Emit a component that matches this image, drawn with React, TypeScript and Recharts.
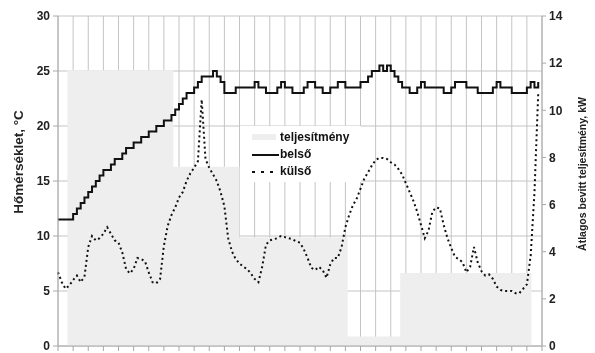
import {
  ComposedChart,
  Area,
  Line,
  XAxis,
  YAxis,
  CartesianGrid,
  Legend
} from "recharts";

// belső hőmérséklet, °C (one reading per sample)
const insideTemp = [
  11.5, 11.5, 11.5, 11.5, 12, 12.5, 13, 13.5, 14, 14.5,
  15, 15.5, 16, 16, 16.5, 17, 17, 17.5, 18, 18,
  18.5, 18.5, 19, 19, 19.5, 19.5, 20, 20, 20.5, 20.5,
  21, 21.5, 22, 22.5, 23, 23, 23.5, 24, 24.5, 24.5,
  24.5, 25, 24.5, 24, 23, 23, 23, 23.5, 23.5, 23.5,
  23.5, 23.5, 24, 23.5, 23.5, 23, 23, 23, 23.5, 24,
  23.5, 23.5, 23, 23, 23, 23.5, 24, 24, 23.5, 23.5,
  23, 23, 23.5, 23.5, 24, 24, 23.5, 23.5, 23.5, 23.5,
  24, 24, 24.5, 25, 25, 25.5, 25, 25.5, 25, 24.5,
  24, 23.5, 23.5, 23, 23, 23.5, 24, 23.5, 23.5, 23.5,
  23.5, 23.5, 23, 23, 23.5, 24, 24, 24, 23.5, 23.5,
  23.5, 23, 23, 23, 23, 23.5, 24, 23.5, 23.5, 23.5,
  23, 23, 23, 23, 23.5, 24, 23.5, 24
];

// külső hőmérséklet, °C
const outsideTemp = [
  6.7, 5.8, 5.2, 5.5, 6.0, 6.4, 5.8, 6.3, 9.0, 10.0,
  9.6, 9.8, 10.2, 10.8, 10.2, 9.6, 9.4, 8.5, 7.0, 6.6,
  7.0, 8.0, 7.9, 7.7, 6.7, 5.8, 5.7, 6.1, 9.1, 10.9,
  11.9, 12.6, 13.5, 14.0, 15.0, 15.7, 16.2, 16.8, 22.4, 17.0,
  16.2, 15.6, 15.0, 14.0, 12.7, 9.8, 8.6, 7.9, 7.5, 7.2,
  7.0, 6.6, 6.1, 5.8, 7.2, 9.2, 9.6, 9.7, 9.8, 10.0,
  9.9, 9.8, 9.7, 9.5, 9.4, 8.8, 8.0, 7.1, 6.9, 7.2,
  6.9, 6.2, 7.4, 8.0, 8.0, 9.0, 10.8, 11.9, 12.8, 13.4,
  14.3, 15.2, 15.8, 16.4, 16.9, 17.1, 17.1, 17.0, 16.7, 16.5,
  16.1, 15.6, 14.8, 14.0, 13.2, 12.2, 11.0, 9.8, 10.5, 12.2,
  12.6, 12.5, 11.0, 9.8, 8.9, 8.1, 7.9, 7.6, 6.7, 7.2,
  9.0, 7.6, 6.8, 6.4, 6.5, 6.1, 5.4, 5.1, 5.0, 5.0,
  5.0, 4.8, 4.8, 5.2, 5.6, 8.2, 13.9, 23.0
];

// átlagos bevitt teljesítmény, kW: block start (sample index) and value
const powerStart = [0, 2.5, 30.5, 48, 76.6, 90.5, 125.2, 128];
const powerKw = [0, 11.7, 7.6, 4.6, 0.4, 3.1, 0, 0];

const tempTicks = [0, 5, 10, 15, 20, 25, 30];
const powerTicks = [0, 2, 4, 6, 8, 10, 12, 14];
const xTicks = Array.from({ length: 33 }, (_, i) => i * 4);

const tempData = insideTemp.map((v, i) => ({
  t: i,
  belso: v,
  kulso: outsideTemp[i]
}));

const powerData = powerStart.map((t, i) => ({ t, teljesitmeny: powerKw[i] }));

const FONT = '"Liberation Sans", Arial, sans-serif';
const tickStyle = { fontSize: 12, fontWeight: "bold", fill: "#222", fontFamily: FONT };

const renderLegend = () => (
  <div
    style={{
      fontFamily: FONT,
      fontWeight: "bold",
      fontSize: 12,
      color: "#111",
      background: "#fff",
      padding: "3px 0 0 12px",
      height: 56,
      boxSizing: "border-box",
      lineHeight: "17px"
    }}
  >
    <div style={{ display: "flex", alignItems: "center" }}>
      <svg width={28} height={17}>
        <rect x={0} y={5} width={24} height={6} fill="#eeeeee" />
      </svg>
      <span>teljesítmény</span>
    </div>
    <div style={{ display: "flex", alignItems: "center" }}>
      <svg width={28} height={17}>
        <line x1={0} y1={9} x2={27} y2={9} stroke="#111" strokeWidth={2} />
      </svg>
      <span>belső</span>
    </div>
    <div style={{ display: "flex", alignItems: "center" }}>
      <svg width={28} height={17}>
        <line x1={0} y1={9} x2={27} y2={9} stroke="#111" strokeWidth={2} strokeDasharray="3 6" />
      </svg>
      <span>külső</span>
    </div>
  </div>
);

const App = () => {
  return (
    <div style={{ position: "fixed", left: 0, top: 0 }}>
      <ComposedChart
        width={595}
        height={353}
        data={tempData}
        margin={{ top: 16, right: 0, bottom: 0, left: 0 }}
      >
        <CartesianGrid yAxisId="left" stroke="#c4c4c4" />
        <XAxis
          dataKey="t"
          type="number"
          domain={[0, 128]}
          ticks={xTicks}
          interval={0}
          tickFormatter={() => ""}
          height={7}
          tickSize={5}
          stroke="#a8a8a8"
        />
        <YAxis
          yAxisId="left"
          domain={[0, 30]}
          ticks={tempTicks}
          interval={0}
          width={58}
          tickSize={5}
          tickMargin={3}
          stroke="#a8a8a8"
          tick={tickStyle}
          label={{
            content: () => (
              <text
                x={18}
                y={162}
                transform="rotate(-90 18 162)"
                textAnchor="middle"
                dominantBaseline="central"
                style={{ fontFamily: FONT, fontWeight: "bold", fontSize: 13.5, fill: "#222" }}
              >
                Hőmérséklet, °C
              </text>
            )
          }}
        />
        <YAxis
          yAxisId="right"
          orientation="right"
          domain={[0, 14]}
          ticks={powerTicks}
          interval={0}
          width={53}
          tickSize={4}
          tickMargin={3}
          stroke="#a8a8a8"
          tick={tickStyle}
          label={{
            content: () => (
              <text
                x={582}
                y={174}
                transform="rotate(-90 582 174)"
                textAnchor="middle"
                dominantBaseline="central"
                style={{ fontFamily: FONT, fontWeight: "bold", fontSize: 10.5, fill: "#222" }}
              >
                Átlagos bevitt teljesítmény, kW
              </text>
            )
          }}
        />
        <Area
          yAxisId="right"
          data={powerData}
          dataKey="teljesitmeny"
          type="stepAfter"
          fill="#eeeeee"
          fillOpacity={1}
          stroke="none"
          isAnimationActive={false}
        />
        <Line
          yAxisId="left"
          dataKey="belso"
          type="stepAfter"
          stroke="#111"
          strokeWidth={2}
          dot={false}
          isAnimationActive={false}
        />
        <Line
          yAxisId="left"
          dataKey="kulso"
          type="linear"
          stroke="#111"
          strokeWidth={2}
          strokeDasharray="2 3"
          dot={false}
          isAnimationActive={false}
        />
        <Legend
          layout="vertical"
          align="center"
          verticalAlign="middle"
          content={renderLegend}
          wrapperStyle={{ left: 240, top: 126, width: 121, height: 56 }}
        />
      </ComposedChart>
    </div>
  );
};

export default App;
